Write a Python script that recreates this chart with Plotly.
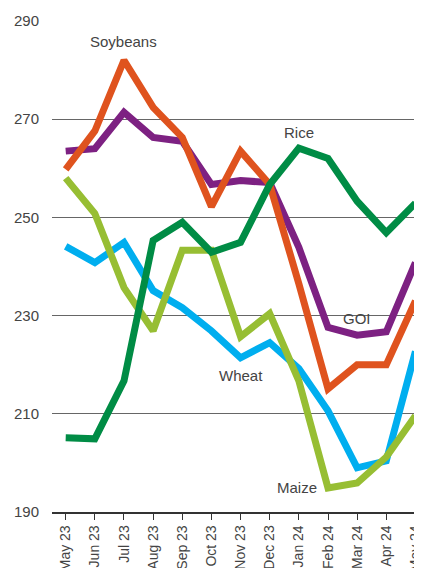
import plotly.graph_objects as go

months = ["May 23", "Jun 23", "Jul 23", "Aug 23", "Sep 23", "Oct 23", "Nov 23",
          "Dec 23", "Jan 24", "Feb 24", "Mar 24", "Apr 24", "May 24"]

wheat = [244.1, 240.8, 244.9, 235.1, 231.6, 226.9, 221.4, 224.5, 219.2, 210.6, 199.0, 200.4, 222.7]
maize = [258.0, 250.8, 235.7, 226.9, 243.3, 243.3, 225.7, 230.4, 216.7, 194.9, 195.9, 201.2, 209.6]
goi = [263.5, 264.0, 271.4, 266.3, 265.5, 256.7, 257.5, 257.1, 243.9, 227.6, 226.0, 226.7, 240.8]
soybeans = [259.8, 267.6, 282.0, 272.4, 266.3, 252.2, 263.5, 256.7, 236.5, 215.1, 220.0, 220.0, 233.0]
rice = [205.1, 204.9, 216.7, 245.3, 249.0, 242.9, 244.9, 256.7, 264.1, 262.0, 253.3, 246.9, 252.9]

series = [
    ("Wheat", wheat, "#00AEEF"),
    ("Maize", maize, "#97BE33"),
    ("GOI", goi, "#7D2182"),
    ("Soybeans", soybeans, "#DF531E"),
    ("Rice", rice, "#008C45"),
]

# label positions (month index, value)
labels = [
    ("Soybeans", 2.0, 285.9),
    ("Rice", 8.0, 267.3),
    ("GOI", 10.0, 229.4),
    ("Wheat", 6.0, 217.8),
    ("Maize", 7.95, 194.9),
]

x = list(range(len(months)))

fig = go.Figure()
for name, vals, col in series:
    fig.add_trace(go.Scatter(x=x, y=vals, mode="lines", name=name,
                             line=dict(color=col, width=7), showlegend=False))

for text, lx, ly in labels:
    fig.add_annotation(x=lx, y=ly, text=text, showarrow=False,
                       font=dict(size=15, color="#444444"))

# page body adds an 8px offset, margins compensate for it
fig.update_layout(
    width=422, height=568,
    margin=dict(l=44, r=0, t=13, b=64),
    paper_bgcolor="white", plot_bgcolor="white",
    font=dict(family="Liberation Sans, Arial, sans-serif", color="#444444"),
)
fig.update_xaxes(
    range=[-0.47, 12.5], tickvals=x, ticktext=months, tickangle=-90,
    ticks="outside", ticklen=6, tickcolor="#333333", tickwidth=1,
    showline=True, linecolor="#333333", linewidth=1.5,
    showgrid=False, zeroline=False, automargin=False,
    tickfont=dict(size=14, color="#444444"),
)
fig.update_yaxes(
    range=[190, 290], tickvals=[190, 210, 230, 250, 270, 290],
    showgrid=True, gridcolor="#666666", gridwidth=1, zeroline=False,
    ticks="", ticklabelstandoff=12, automargin=False,
    tickfont=dict(size=15, color="#444444"),
)

fig.write_html("out.html")
